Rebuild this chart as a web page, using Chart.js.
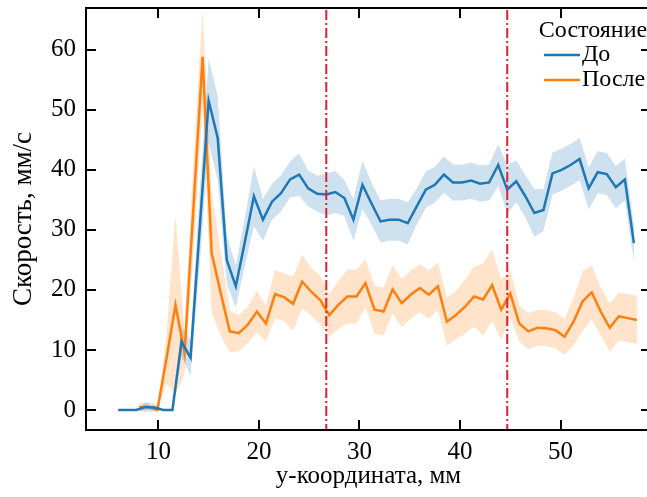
<!DOCTYPE html>
<html>
<head>
<meta charset="utf-8">
<script src="https://cdn.jsdelivr.net/npm/chart.js@4.4.1/dist/chart.umd.min.js"></script>
<style>
  html, body { margin: 0; padding: 0; background: #fff; overflow: hidden; }
  #wrap { width: 647px; height: 497px; overflow: hidden; }
</style>
</head>
<body>
<div id="wrap"><canvas id="myChart" width="690" height="497"></canvas></div>
<script>
// y-координата, мм — точки серии «До»
var beforeX = [6.0, 6.9, 7.8, 8.7, 9.6, 10.5, 11.4, 12.3, 13.2, 14.1, 15.0, 15.9, 16.8, 17.7, 18.6,
  19.5, 20.4, 21.3, 22.2, 23.1, 24.0, 24.9, 25.8, 26.7, 27.6, 28.5, 29.4, 30.3, 31.2, 32.1, 33.0,
  33.9, 34.8, 35.7, 36.6, 37.5, 38.4, 39.3, 40.2, 41.1, 42.0, 42.9, 43.8, 44.7, 45.6, 46.5, 47.4,
  48.3, 49.2, 50.1, 51.0, 51.9, 52.8, 53.7, 54.6, 55.5, 56.4, 57.3];
var beforeY = [0, 0, 0, 0.5, 0.4, 0, 0, 11.4, 8.7, 30, 51.5, 45.3, 25, 20.6, 28,
  35.6, 31.7, 34.7, 36.1, 38.4, 39.2, 36.9, 36.0, 35.9, 36.3, 35.3, 31.7, 37.5, 34.4, 31.4, 31.7,
  31.7, 31.1, 33.9, 36.7, 37.5, 39.2, 37.9, 37.9, 38.2, 37.7, 37.9, 40.8, 36.7, 38.1, 35.6, 32.8,
  33.3, 39.4, 40.0, 40.8, 41.8, 36.9, 39.6, 39.3, 37.1, 38.4, 27.8];
// half width of the shaded band
var beforeErr = [0, 0, 0, 0.8, 0.6, 0, 0, 2.5, 3, 6, 7, 7, 4, 3.5, 4,
  5, 3.5, 3, 3, 3, 3.5, 3, 3, 3.5, 3.5, 3, 3.5, 4, 3.5, 3.5, 3.5,
  3.5, 3.5, 3, 3, 3, 3, 3, 3, 3, 3, 3, 3.5, 4, 3.5, 3.5, 4,
  3.5, 3.5, 3.5, 3.5, 3.5, 3.5, 3.5, 3.5, 3.5, 3.5, 3];

// серия «После»
var afterX = [8.1, 9.0, 9.9, 10.8, 11.7, 12.6, 13.5, 14.4, 15.3, 16.2, 17.1, 18.0, 18.9, 19.8,
  20.7, 21.6, 22.5, 23.4, 24.3, 25.2, 26.1, 27.0, 27.9, 28.8, 29.7, 30.6, 31.5, 32.4, 33.3, 34.2,
  35.1, 36.0, 36.9, 37.8, 38.7, 39.6, 40.5, 41.4, 42.3, 43.2, 44.1, 45.0, 45.9, 46.8, 47.7, 48.6,
  49.5, 50.4, 51.3, 52.2, 53.1, 54.0, 54.9, 55.8, 56.7, 57.6];
var afterY = [0.5, 0.5, 0, 8.5, 17.5, 9.5, 34, 58.8, 26.1, 19.5, 13.1, 12.8, 14.2, 16.4,
  14.4, 19.3, 18.8, 17.7, 21.4, 19.7, 18.3, 15.8, 17.5, 18.9, 18.9, 21.1, 16.7, 16.4, 20.1, 17.8,
  19.2, 20.3, 19.2, 20.6, 14.7, 15.8, 17.2, 18.9, 18.4, 20.8, 16.7, 19.4, 14.4, 13.1, 13.7, 13.6,
  13.3, 12.2, 14.7, 18.1, 19.6, 16.4, 13.7, 15.6, 15.3, 15.0];
var afterErr = [0.8, 0.5, 0, 4, 15, 3.5, 8, 8, 10, 7, 3.5, 3, 3, 3.5,
  3, 4, 4, 4.5, 4.5, 4, 4, 3.5, 4, 4.5, 4.5, 4, 4, 4, 4, 4,
  4, 4, 4, 4, 4, 4, 4.5, 5, 6, 6, 5, 4, 3, 3, 3, 3,
  3, 3, 4, 5, 4.5, 4, 4, 4, 4, 4];

var markerLines = [26.7, 44.7];
var xTicks = [10, 20, 30, 40, 50];
var yTicks = [0, 10, 20, 30, 40, 50, 60];
var seriesNames = ['До', 'После'];

var BLUE = '#1f77b4';
var ORANGE = '#ff7f0e';
var serif = '"Liberation Serif", "DejaVu Serif", serif';

function pts(xs, ys, err, sign) {
  return xs.map(function (x, i) { return { x: x, y: ys[i] + sign * (err ? err[i] : 0) }; });
}

function band(xs, ys, err, color, fillTo) {
  return [
    { data: pts(xs, ys, err, 1), borderWidth: 0, pointRadius: 0, backgroundColor: color, fill: fillTo, order: 3 },
    { data: pts(xs, ys, err, -1), borderWidth: 0, pointRadius: 0, fill: false, order: 3 }
  ];
}

function vline(x) {
  return {
    data: [{ x: x, y: -10 }, { x: x, y: 80 }],
    borderColor: '#e3202c', borderWidth: 2, borderDash: [10, 3, 2, 3],
    pointRadius: 0, fill: false, clip: 0, order: 0
  };
}

var frame = {
  id: 'frame',
  afterDraw: function (chart) {
    var c = chart.ctx, a = chart.chartArea;
    var xs = chart.scales.x, ys = chart.scales.y;
    c.save();
    c.strokeStyle = '#000';
    c.lineWidth = 2;
    c.strokeRect(a.left, a.top, a.right - a.left, a.bottom - a.top);
    c.beginPath();
    xTicks.forEach(function (v) {
      var p = Math.round(xs.getPixelForValue(v));
      c.moveTo(p, a.bottom); c.lineTo(p, a.bottom - 10);
      c.moveTo(p, a.top); c.lineTo(p, a.top + 10);
    });
    yTicks.forEach(function (v) {
      var p = Math.round(ys.getPixelForValue(v));
      c.moveTo(a.left, p); c.lineTo(a.left + 10, p);
      c.moveTo(a.right, p); c.lineTo(a.right - 10, p);
    });
    c.stroke();

    // legend
    c.fillStyle = '#000';
    c.font = '24px ' + serif;
    c.textBaseline = 'middle';
    c.textAlign = 'center';
    c.fillText('Состояние', a.right - 58, a.top + 23);
    c.textAlign = 'left';
    [BLUE, ORANGE].forEach(function (col, i) {
      var y = a.top + 47 + i * 25;
      c.strokeStyle = col;
      c.lineWidth = 2.5;
      c.beginPath();
      c.moveTo(a.right - 107, y); c.lineTo(a.right - 71, y);
      c.stroke();
      c.fillText(seriesNames[i], a.right - 69, y);
    });
    c.restore();
  }
};

Chart.defaults.color = '#000';
Chart.defaults.font.family = serif;

var ctx = document.getElementById('myChart').getContext('2d');

var chart = new Chart(ctx, {
  type: 'line',
  data: {
    datasets: []
      .concat(band(beforeX, beforeY, beforeErr, 'rgba(31,119,180,0.22)', 1))
      .concat(band(afterX, afterY, afterErr, 'rgba(255,127,14,0.22)', 3))
      .concat([
        { label: seriesNames[0], data: pts(beforeX, beforeY, null, 0), borderColor: BLUE, borderWidth: 2.5, pointRadius: 0, fill: false, order: 1 },
        { label: seriesNames[1], data: pts(afterX, afterY, null, 0), borderColor: ORANGE, borderWidth: 2.5, pointRadius: 0, fill: false, order: 1 }
      ])
      .concat(markerLines.map(vline))
  },
  options: {
    responsive: false,
    animation: false,
    layout: { padding: { top: 8, right: 39, left: 0, bottom: 0 } },
    plugins: { legend: { display: false }, tooltip: { enabled: false } },
    scales: {
      x: {
        type: 'linear', min: 2.8, max: 59,
        grid: { display: false, drawTicks: false },
        border: { display: false },
        afterBuildTicks: function (s) { s.ticks = xTicks.map(function (v) { return { value: v }; }); },
        afterFit: function (s) { s.height = 67; s.paddingLeft = 0; s.paddingRight = 0; },
        ticks: { font: { size: 25 }, padding: 7, maxRotation: 0 },
        title: { display: true, text: 'у-координата, мм', font: { size: 25 }, padding: { top: 0, bottom: 6 } }
      },
      y: {
        min: -3.33, max: 66.95,
        grid: { display: false, drawTicks: false },
        border: { display: false },
        afterBuildTicks: function (s) { s.ticks = yTicks.map(function (v) { return { value: v }; }); },
        afterFit: function (s) { s.width = 86; s.paddingTop = 0; s.paddingBottom = 0; },
        ticks: { font: { size: 25 }, padding: 10 },
        title: { display: true, text: 'Скорость, мм/с', font: { size: 27 }, padding: { top: 8, bottom: 0 } }
      }
    }
  },
  plugins: [frame]
});
</script>
</body>
</html>
